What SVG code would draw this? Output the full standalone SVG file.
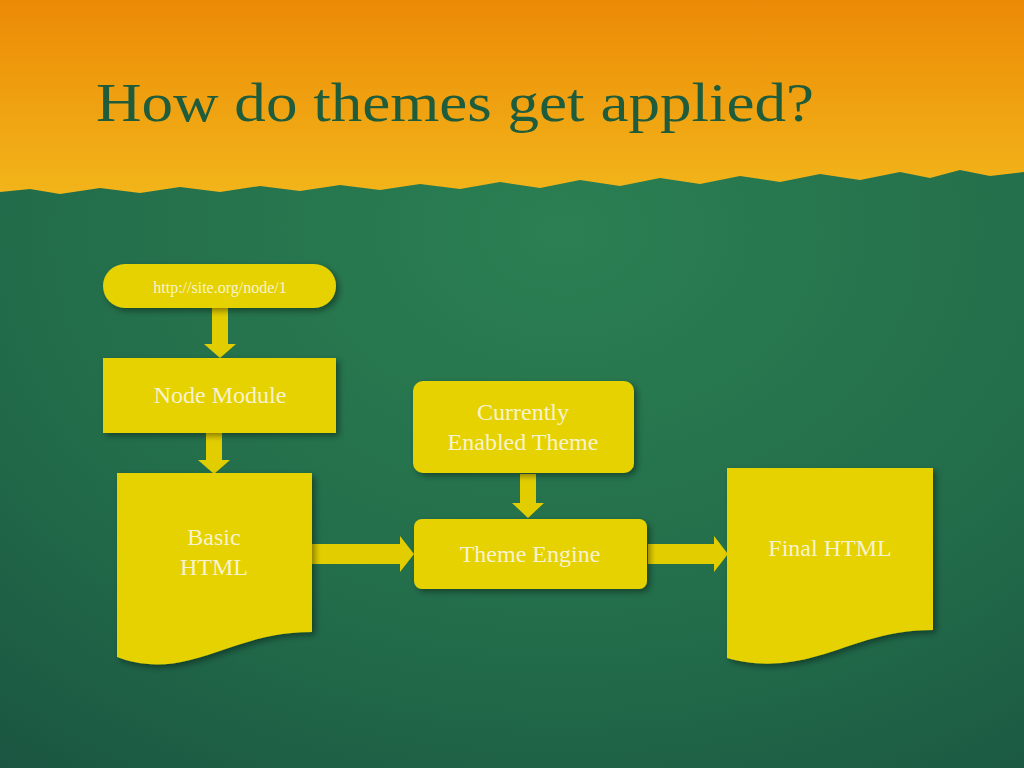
<svg xmlns="http://www.w3.org/2000/svg" width="1024" height="768" viewBox="0 0 1024 768">
<defs>
<linearGradient id="top" x1="0" y1="0" x2="0" y2="1"><stop offset="0" stop-color="#ec8a06"/><stop offset="1" stop-color="#f2b51a"/></linearGradient>
<radialGradient id="bg" cx="0.55" cy="0.3" r="0.9"><stop offset="0" stop-color="#2b7f52"/><stop offset="0.6" stop-color="#226c4a"/><stop offset="1" stop-color="#1a5541"/></radialGradient>
<filter id="sh" x="-10%" y="-10%" width="130%" height="130%"><feDropShadow dx="3" dy="3" stdDeviation="3" flood-color="#000" flood-opacity="0.4"/></filter>
</defs>
<style>
.n{fill:#e6d200;filter:url(#sh)}
.t{font-family:"Liberation Serif",serif;fill:#f7f2cf;text-anchor:middle;font-size:24px}
.s{font-size:16px}
.a{fill:#e2ce00}
</style>
<rect width="1024" height="768" fill="url(#bg)"/>
<path d="M0 0H1024V172L990 176 960 170 930 178 900 172 860 180 820 174 780 182 740 176 700 184 660 178 620 186 580 180 540 188 500 182 460 189 420 184 380 190 340 185 300 191 260 186 220 192 180 187 140 193 100 188 60 194 30 189 0 192Z" fill="url(#top)"/>
<text x="96" y="121" font-family="'Liberation Serif',serif" font-size="54" fill="#1f5c3c" textLength="718" lengthAdjust="spacingAndGlyphs">How do themes get applied?</text>
<g id="connectors" class="a">
<path d="M212 308H228V344H236L220 358 204 344H212Z"/>
<path d="M206 433H222V460H230L214 474 198 460H206Z"/>
<path d="M520 474H536V503H544L528 518 512 503H520Z"/>
<path d="M312 544H400V536L414 554 400 572V564H312Z"/>
<path d="M648 544H714V536L728 554 714 572V564H648Z"/>
</g>
<g id="url"><rect class="n" x="103" y="264" width="233" height="44" rx="22"/><text class="t s" x="220" y="293">http://site.org/node/1</text></g>
<g id="nodemodule"><rect class="n" x="103" y="358" width="233" height="75"/><text class="t" x="220" y="403">Node Module</text></g>
<g id="theme"><rect class="n" x="413" y="381" width="221" height="92" rx="10"/><text class="t" x="523" y="420">Currently</text><text class="t" x="523" y="450">Enabled Theme</text></g>
<g id="basic"><path class="n" d="M117 473H312V632C260 632 230 650 190 660 160 668 135 664 117 657Z"/><text class="t" x="214" y="545">Basic</text><text class="t" x="214" y="575">HTML</text></g>
<g id="engine"><rect class="n" x="414" y="519" width="233" height="70" rx="8"/><text class="t" x="530" y="562">Theme Engine</text></g>
<g id="final"><path class="n" d="M727 468H933V630C880 630 850 648 810 658 775 667 748 664 727 658Z"/><text class="t" x="830" y="556">Final HTML</text></g>
</svg>
